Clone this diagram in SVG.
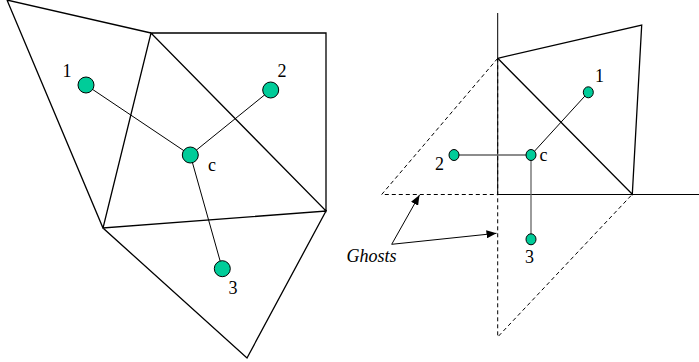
<svg xmlns="http://www.w3.org/2000/svg" width="699" height="362" viewBox="0 0 699 362">
<defs>
<style>
.e{stroke:#000;stroke-width:1.3;fill:none}
.t{stroke:#000;stroke-width:1;fill:none}
.g{stroke:#666;stroke-width:1.3;fill:none}
.d{stroke:#000;stroke-width:1;fill:none;stroke-dasharray:4,3}
.n{fill:#00cc99;stroke:#000;stroke-width:1}
text{font-family:"Liberation Serif","Times New Roman","DejaVu Serif",serif;font-size:18px;fill:#000}
</style>
<marker id="ah" viewBox="0 0 10 8" refX="10" refY="4" markerWidth="10" markerHeight="8" markerUnits="userSpaceOnUse" orient="auto">
<path d="M0,0 L10,4 L0,8 Z" fill="#000"/>
</marker>
</defs>
<rect width="699" height="362" fill="#fff"/>
<g id="mesh-left">
<path class="e" d="M7,0 L151,33 L326,33 L326,211 L151,33 L103,228 L326,211 L247,358 L103,228 L7,0"/>
</g>
<g id="mesh-right">
<line class="t" x1="497.7" y1="13" x2="497.7" y2="195"/>
<line class="t" x1="497.7" y1="194.5" x2="699" y2="194.5"/>
<path class="e" d="M497.7,58.3 L641.7,25 L632.3,194.3 L497.7,58.3"/>
<path class="d" d="M497.7,58.3 L381.7,194.5 L497.7,194.5"/>
<path class="d" d="M497.7,58.3 L497.7,337 L632.3,194.3"/>
</g>
<g id="connectors">
<line class="t" x1="190.3" y1="155" x2="86" y2="85"/>
<line class="t" x1="190.3" y1="155" x2="270.7" y2="90"/>
<line class="t" x1="190.3" y1="155" x2="222.3" y2="268.7"/>
<line class="t" x1="531" y1="155" x2="588.3" y2="92.3"/>
<line class="g" x1="531" y1="155" x2="454" y2="155"/>
<line class="g" x1="531" y1="155" x2="531" y2="239.3"/>
<line class="t" x1="391.7" y1="244.3" x2="419.5" y2="195" marker-end="url(#ah)"/>
<line class="t" x1="391.7" y1="244.3" x2="496.5" y2="233.3" marker-end="url(#ah)"/>
</g>
<g text-anchor="middle">
<g id="node-l1"><circle class="n" cx="86" cy="85" r="8"/><text x="67" y="77">1</text></g>
<g id="node-l2"><circle class="n" cx="270.7" cy="90" r="8"/><text x="282" y="77">2</text></g>
<g id="node-lc"><circle class="n" cx="190.3" cy="155" r="8"/><text x="212" y="171">c</text></g>
<g id="node-l3"><circle class="n" cx="222.3" cy="268.7" r="8"/><text x="233" y="294">3</text></g>
<g id="node-r1"><ellipse class="n" cx="588.3" cy="92.3" rx="5" ry="5.5"/><text x="599.5" y="82">1</text></g>
<g id="node-rc"><ellipse class="n" cx="531" cy="155" rx="5" ry="5.5"/><text x="543.5" y="161">c</text></g>
<g id="node-r2"><ellipse class="n" cx="454" cy="155" rx="5" ry="5.5"/><text x="439.5" y="170">2</text></g>
<g id="node-r3"><ellipse class="n" cx="531" cy="239.3" rx="5" ry="5.5"/><text x="529.5" y="263">3</text></g>
<g id="label-ghosts"><text x="346.5" y="261.5" font-style="italic" text-anchor="start">Ghosts</text></g>
</g>
</svg>
